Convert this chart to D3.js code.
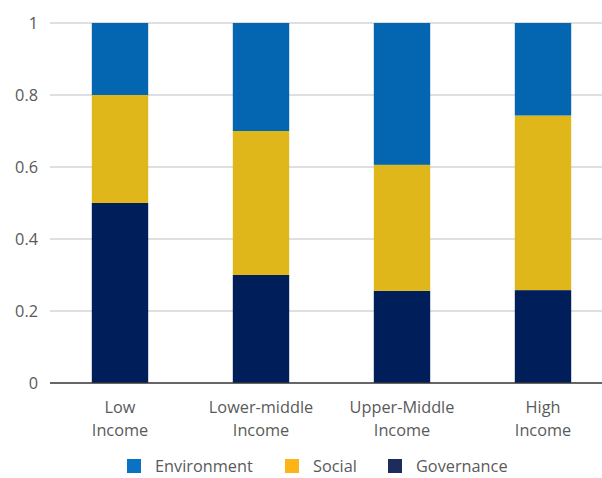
<!DOCTYPE html>
<html><head><meta charset="utf-8">
<script src="https://cdn.jsdelivr.net/npm/d3@7"></script>
<style>body{margin:0;background:#fff}svg{display:block}</style>
</head><body>
<svg id="c" width="602" height="478"></svg>
<script>
const categories = [["Low","Income"],["Lower-middle","Income"],["Upper-Middle","Income"],["High","Income"]];
const governance = [0.5, 0.3, 0.256, 0.258];
const social = [0.3, 0.4, 0.35, 0.485];
const environment = [0.2, 0.3, 0.394, 0.257];
const yTicks = [0, 0.2, 0.4, 0.6, 0.8, 1];
const seriesNames = ["Environment","Social","Governance"];
const barColors = {Environment:"#0466b0", Social:"#dfb71a", Governance:"#001e5a"};
const legendColors = {Environment:"#0a72c2", Social:"#fcb416", Governance:"#1b2c5d"};

const svg = d3.select("#c");
const font = "'Open Sans', sans-serif";
const fs = 16.3;
const x = d3.scaleBand().domain(d3.range(categories.length)).range([49.5, 613.5]).paddingInner(0.6).paddingOuter(0.3);
const y = d3.scaleLinear().domain([0,1]).range([383, 23]);

// gridlines
svg.append("g").selectAll("line").data(yTicks.filter(d=>d>0)).join("line")
  .attr("x1",50).attr("x2",602).attr("y1",d=>y(d)).attr("y2",d=>y(d))
  .attr("stroke","#d4d4d4").attr("stroke-width",1.3);

// y tick labels
svg.append("g").selectAll("text").data(yTicks).join("text")
  .attr("x",38).attr("y",d=>y(d)).attr("dy","0.36em").attr("text-anchor","end")
  .attr("font-family",font).attr("font-size",fs).attr("fill","#5a5a5a")
  .text(d=>d3.format("~g")(d));

// stacked data
const rows = categories.map((c,i)=>({i, Governance:governance[i], Social:social[i], Environment:environment[i]}));
const stack = d3.stack().keys(["Governance","Social","Environment"])(rows);
svg.append("g").selectAll("g").data(stack).join("g").attr("fill",d=>barColors[d.key])
  .selectAll("rect").data(d=>d).join("rect")
  .attr("x",d=>x(d.data.i)).attr("width",x.bandwidth())
  .attr("y",d=>y(d[1])).attr("height",d=>y(d[0])-y(d[1]));

// baseline
svg.append("line").attr("x1",50).attr("x2",602).attr("y1",y(0)).attr("y2",y(0))
  .attr("stroke","#333").attr("stroke-width",1.6);

// x labels
const xl = svg.append("g").selectAll("text").data(categories).join("text")
  .attr("x",(d,i)=>x(i)+x.bandwidth()/2).attr("y",413).attr("text-anchor","middle")
  .attr("font-family",font).attr("font-size",fs).attr("fill","#5a5a5a");
xl.selectAll("tspan").data(d=>d).join("tspan")
  .attr("x",function(){return this.parentNode.getAttribute("x");})
  .attr("dy",(d,j)=>j===0?0:23).text(d=>d);

// legend
const legX = [127, 285, 388];
const lg = svg.append("g").selectAll("g").data(seriesNames).join("g")
  .attr("transform",(d,i)=>`translate(${legX[i]},459)`);
lg.append("rect").attr("width",14).attr("height",14).attr("fill",d=>legendColors[d]);
lg.append("text").attr("x",28).attr("y",13).attr("font-family",font).attr("font-size",fs)
  .attr("fill","#5a5a5a").text(d=>d);
</script>
</body></html>
